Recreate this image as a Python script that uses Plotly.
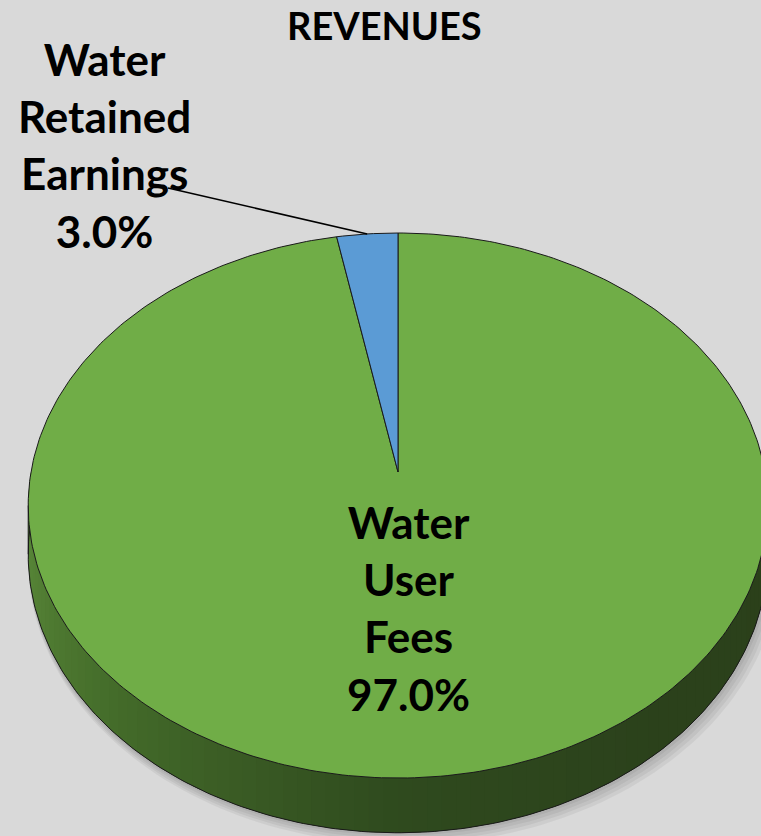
import numpy as np
import plotly.graph_objects as go

# Revenue split
categories = ["Water User Fees", "Water Retained Earnings"]
values = [97.0, 3.0]
label_lines = [["Water", "User", "Fees"], ["Water", "Retained", "Earnings"]]
slice_colors = ["#70ad47", "#5b9bd5"]

W, H = 761, 836
BG = "#d9d9d9"

# perspective disk geometry (pixel space)
CX, CY = 398.0, 472.0      # projected centre of the disk
SX, SY = 367.0, 268.4      # horizontal / vertical radius scale
K = 0.123                  # perspective foreshortening
DEPTH = 48.0               # thickness of the disk


def proj(t, r=1.0, drop=0.0):
    X = r * np.cos(t)
    Y = r * np.sin(t)
    w = 1.0 + K * Y
    return CX + SX * X / w, CY - SY * Y / w + drop / w


fig = go.Figure()

# soft shadow under the disk
for i in range(4):
    tt = np.linspace(0, 2 * np.pi, 240)
    x, y = proj(tt, r=1.0 + 0.004 * (i + 1), drop=DEPTH)
    fig.add_trace(go.Scatter(x=x + 1.5 * (i + 1), y=y + 1.5 * (i + 1), mode="lines",
                             fill="toself", fillcolor="rgba(0,0,0,0.05)",
                             line=dict(width=0), hoverinfo="skip", showlegend=False))

# side wall base
tt = np.linspace(np.pi, 2 * np.pi, 200)
xa, ya = proj(tt)
xb, yb = proj(tt[::-1], drop=DEPTH)
fig.add_trace(go.Scatter(x=list(xa) + list(xb), y=list(ya) + list(yb), mode="lines",
                         fill="toself", fillcolor="rgb(45,70,29)", line=dict(width=0),
                         hoverinfo="skip", showlegend=False))

# side wall shading, lit from the left
stops_t = np.array([1.0, 1.25, 1.5, 1.72, 2.0]) * np.pi
stops_c = np.array([[94, 142, 60], [68, 108, 42], [47, 74, 30], [43, 65, 27], [43, 64, 26]])
n = 90
ts = np.linspace(np.pi, 2 * np.pi, n + 1)
step = ts[1] - ts[0]
for i in range(n):
    t0, t1 = ts[i], ts[i + 1] + 0.6 * step
    tm = 0.5 * (ts[i] + ts[i + 1])
    c = [int(round(np.interp(tm, stops_t, stops_c[:, j]))) for j in range(3)]
    col = f"rgb({c[0]},{c[1]},{c[2]})"
    seg = np.linspace(t0, t1, 4)
    xa, ya = proj(seg)
    xb, yb = proj(seg[::-1], drop=DEPTH)
    fig.add_trace(go.Scatter(x=list(xa) + list(xb), y=list(ya) + list(yb), mode="lines",
                             fill="toself", fillcolor=col, line=dict(width=0),
                             hoverinfo="skip", showlegend=False))

# outline of the side wall
tt = np.linspace(np.pi, 2 * np.pi, 200)
xb, yb = proj(tt, drop=DEPTH)
fig.add_trace(go.Scatter(x=xb, y=yb, mode="lines", line=dict(color="#1a1a1a", width=1),
                         hoverinfo="skip", showlegend=False))
for tsil in (np.pi + np.arcsin(K), 2 * np.pi - np.arcsin(K)):
    x0, y0 = proj(tsil)
    x1, y1 = proj(tsil, drop=DEPTH)
    fig.add_trace(go.Scatter(x=[x0, x1], y=[y0, y1], mode="lines",
                             line=dict(color="#1a1a1a", width=1),
                             hoverinfo="skip", showlegend=False))

# top face slices: first slice runs clockwise from 12 o'clock,
# the remaining share fills the gap back to 12 o'clock
total = sum(values)
angles = []
a = np.pi / 2
for v in values:
    sweep = 2 * np.pi * v / total
    angles.append((a, a - sweep))
    a -= sweep

for (a0, a1), col in zip(angles, slice_colors):
    tt = np.linspace(a0, a1, max(3, int(abs(a0 - a1) / (2 * np.pi) * 400)))
    x, y = proj(tt)
    xs = [CX] + list(x) + [CX]
    ys = [CY] + list(y) + [CY]
    fig.add_trace(go.Scatter(x=xs, y=ys, mode="lines", fill="toself", fillcolor=col,
                             line=dict(color="#1a1a1a", width=1),
                             hoverinfo="skip", showlegend=False))

# leader line to the small slice
a0, a1 = angles[1]
lx, ly = proj((a0 + a1) / 2)
fig.add_trace(go.Scatter(x=[168, lx], y=[188, ly], mode="lines",
                         line=dict(color="#000000", width=1.6),
                         hoverinfo="skip", showlegend=False))

FONT = "Lato"


def label_text(lines, v):
    return "<br>".join(f"<b>{s}</b>" for s in lines + [f"{v / total * 100:.1f}%"])


fig.add_annotation(x=408, y=608, text=label_text(label_lines[0], values[0]),
                   showarrow=False, xanchor="center", yanchor="middle",
                   font=dict(family=FONT, size=44, color="#000000"))
fig.add_annotation(x=104, y=145, text=label_text(label_lines[1], values[1]),
                   showarrow=False, xanchor="center", yanchor="middle",
                   font=dict(family=FONT, size=44, color="#000000"))
fig.add_annotation(x=384, y=25, text="<b>REVENUES</b>", showarrow=False,
                   xanchor="center", yanchor="middle",
                   font=dict(family=FONT, size=38, color="#000000"))

fig.update_layout(
    width=W, height=H, margin=dict(l=0, r=0, t=0, b=0),
    paper_bgcolor=BG, plot_bgcolor=BG, showlegend=False,
    xaxis=dict(range=[0, W], visible=False, fixedrange=True),
    yaxis=dict(range=[H, 0], visible=False, fixedrange=True),
)

fig.write_html("out.html")
